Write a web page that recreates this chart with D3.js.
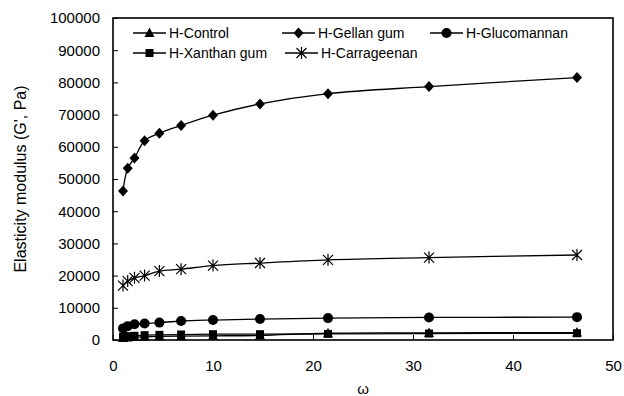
<!DOCTYPE html>
<html>
<head>
<meta charset="utf-8">
<script src="https://cdn.jsdelivr.net/npm/d3@7"></script>
<style>
  body { margin: 0; background: #fff; }
  text { font-family: "Liberation Sans", Arial, sans-serif; fill: #000; }
</style>
</head>
<body>
<svg id="chart" width="624" height="396"></svg>
<script>
// frequencies (ω)
var omega = [1, 1.47, 2.15, 3.16, 4.64, 6.81, 10, 14.7, 21.5, 31.6, 46.4];

var control     = [600, 800, 900, 1000, 1100, 1200, 1300, 1400, 2100, 2200, 2300];
var gellan      = [46300, 53300, 56500, 61900, 64200, 66600, 69800, 73300, 76500, 78700, 81500];
var glucomannan = [3600, 4300, 4900, 5100, 5400, 5900, 6200, 6500, 6800, 7000, 7100];
var xanthan     = [1000, 1200, 1300, 1500, 1600, 1700, 1800, 1800, 1900, 2000, 2100];
var carrageenan = [16900, 18300, 19300, 20000, 21400, 22000, 23100, 23900, 24900, 25600, 26400];

var seriesNames = ["H-Control", "H-Gellan gum", "H-Glucomannan", "H-Xanthan gum", "H-Carrageenan"];
var seriesVals = [control, gellan, glucomannan, xanthan, carrageenan];
var markers = ["triangle", "diamond", "circle", "square", "star"];

var xTicks = [0, 10, 20, 30, 40, 50];
var yTicks = [0, 10000, 20000, 30000, 40000, 50000, 60000, 70000, 80000, 90000, 100000];

var svg = d3.select("#chart");
var plotLeft = 113, plotRight = 613, plotTop = 18, plotBottom = 340;

var x = d3.scaleLinear().domain([0, 50]).range([plotLeft, plotRight]);
var y = d3.scaleLinear().domain([0, 100000]).range([plotBottom, plotTop]);

// axes, ticks point inward
var xAxis = svg.append("g").attr("transform", "translate(0," + plotBottom + ")")
    .call(d3.axisBottom(x).tickValues(xTicks).tickSizeInner(-5).tickSizeOuter(0).tickPadding(20));
var yAxis = svg.append("g").attr("transform", "translate(" + plotLeft + ",0)")
    .call(d3.axisLeft(y).tickValues(yTicks).tickFormat(d3.format("d")).tickSizeInner(-5).tickSizeOuter(0).tickPadding(13));

[xAxis, yAxis].forEach(function(a){
    a.select(".domain").remove();
    a.selectAll("line").attr("stroke", "#000").attr("stroke-width", 1);
    a.selectAll("text").style("font-size", "15px").style("font-family", "Liberation Sans, Arial, sans-serif");
});

// frame
svg.append("rect")
    .attr("x", plotLeft).attr("y", plotTop)
    .attr("width", plotRight - plotLeft).attr("height", plotBottom - plotTop)
    .attr("fill", "none").attr("stroke", "#000").attr("stroke-width", 1.6);

// axis titles
svg.append("text")
    .attr("transform", "translate(26," + ((plotTop + plotBottom) / 2) + ") rotate(-90)")
    .attr("text-anchor", "middle")
    .style("font-size", "16px")
    .text("Elasticity modulus (G', Pa)");

svg.append("text")
    .attr("x", (plotLeft + plotRight) / 2).attr("y", 394)
    .attr("text-anchor", "middle")
    .style("font-size", "15px")
    .text("ω");

function drawMarker(g, type, cx, cy) {
    if (type === "triangle") {
        g.append("path").attr("d", "M" + cx + "," + (cy - 5.5) + "L" + (cx + 5) + "," + (cy + 4) + "L" + (cx - 5) + "," + (cy + 4) + "Z").attr("fill", "#000");
    } else if (type === "diamond") {
        g.append("path").attr("d", "M" + cx + "," + (cy - 5.5) + "L" + (cx + 5) + "," + cy + "L" + cx + "," + (cy + 5.5) + "L" + (cx - 5) + "," + cy + "Z").attr("fill", "#000");
    } else if (type === "circle") {
        g.append("circle").attr("cx", cx).attr("cy", cy).attr("r", 5).attr("fill", "#000");
    } else if (type === "square") {
        g.append("rect").attr("x", cx - 4).attr("y", cy - 4).attr("width", 8).attr("height", 8).attr("fill", "#000");
    } else if (type === "star") {
        var r = 5;
        var d = "M" + (cx - r) + "," + (cy - r) + "L" + (cx + r) + "," + (cy + r)
              + "M" + (cx + r) + "," + (cy - r) + "L" + (cx - r) + "," + (cy + r)
              + "M" + cx + "," + (cy - r - 1) + "L" + cx + "," + (cy + r + 1);
        g.append("path").attr("d", d).attr("stroke", "#000").attr("stroke-width", 1.2).attr("fill", "none");
    }
}

var line = d3.line()
    .x(function(d){ return x(d[0]); })
    .y(function(d){ return y(d[1]); })
    .curve(d3.curveCatmullRom.alpha(0.5));

var plot = svg.append("g");
seriesVals.forEach(function(vals, i){
    var pts = omega.map(function(w, j){ return [w, vals[j]]; });
    plot.append("path")
        .attr("d", line(pts))
        .attr("fill", "none")
        .attr("stroke", "#000")
        .attr("stroke-width", 1.3);
    pts.forEach(function(p){
        drawMarker(plot, markers[i], x(p[0]), y(p[1]));
    });
});

// legend
var legendPos = [[133, 33], [282, 33], [430, 33], [133, 53], [285, 53]];
seriesNames.forEach(function(name, i){
    var lx = legendPos[i][0], ly = legendPos[i][1];
    var g = svg.append("g");
    g.append("line")
        .attr("x1", lx).attr("x2", lx + 33)
        .attr("y1", ly).attr("y2", ly)
        .attr("stroke", "#000").attr("stroke-width", 1.3);
    drawMarker(g, markers[i], lx + 16.5, ly);
    g.append("text")
        .attr("x", lx + 36).attr("y", ly)
        .attr("dy", "0.35em")
        .style("font-size", "14px")
        .text(name);
});
</script>
</body>
</html>
